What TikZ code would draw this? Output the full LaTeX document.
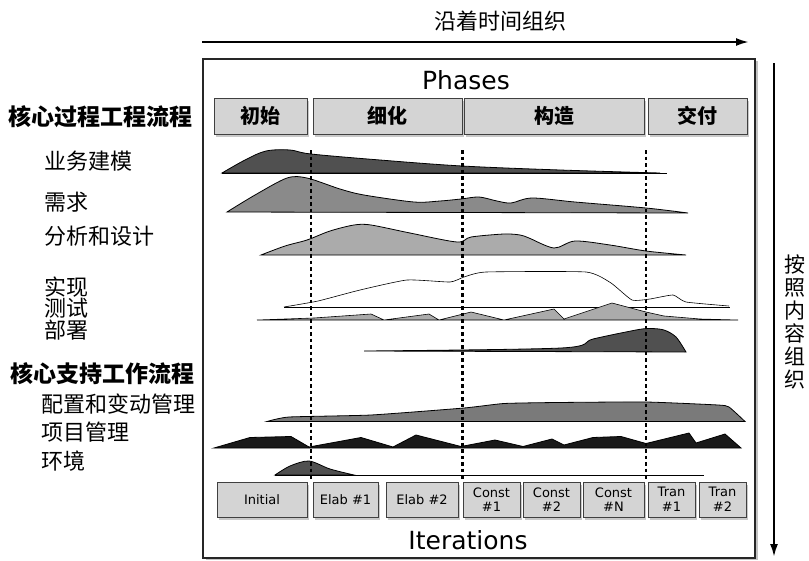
\documentclass[tikz,border=0pt]{standalone}
\usepackage{fontspec}
\setmainfont{DejaVu Sans}
\newfontfamily\song{Noto Sans CJK SC}
\newfontfamily\hei{Noto Sans CJK SC}
\usetikzlibrary{shadows,arrows.meta}
\definecolor{cdark}{HTML}{505050}
\definecolor{cmid}{HTML}{8A8A8A}
\definecolor{clight}{HTML}{ABABAB}
\definecolor{cconf}{HTML}{7A7A7A}
\definecolor{cblack}{HTML}{1A1A1A}
\definecolor{cbox}{HTML}{D4D4D4}
\tikzset{
  lab/.style={font=\song\fontsize{22}{22}\selectfont, anchor=west, inner sep=0pt},
  grp/.style={font=\song\bfseries\fontsize{23}{23}\selectfont, anchor=west, inner sep=0pt},
  phasebox/.style={draw=black!75, line width=0.8pt, fill=cbox,
     drop shadow={shadow xshift=2pt, shadow yshift=-3pt, fill=black!35, opacity=.6}},
  phaselab/.style={font=\hei\bfseries\fontsize{20}{20}\selectfont},
  iterlab/.style={font=\fontsize{13}{14.5}\selectfont, align=center, inner sep=0pt},
  wf/.style={draw=black, line width=0.8pt},
  milestone/.style={line width=2.4pt, dash pattern=on 3.5pt off 3pt},
  bigarrow/.style={line width=2.2pt, -{Latex[length=13pt,width=8pt]}}
}
\begin{document}
\begin{tikzpicture}[x=1pt,y=-1pt]
\useasboundingbox (0,0) rectangle (809,560);

% top arrow
\coordinate (ta) at (202,42);
\coordinate (tb) at (749,42);
\draw[bigarrow] (ta) -- (tb);
\node[font=\song\fontsize{22}{22}\selectfont] (ttime) at (500,21) {沿着时间组织};

% right arrow
\coordinate (ra) at (774,63);
\coordinate (rb) at (774,557);
\draw[bigarrow] (ra) -- (rb);
\node[font=\song\fontsize{21}{23}\selectfont, align=center, inner sep=0pt] (tcont) at (795,322) {按\\照\\内\\容\\组\\织};

% main frame
\draw[line width=1.4pt, draw=black!85, fill=white,
  drop shadow={shadow xshift=3pt, shadow yshift=-2pt, fill=black!40, opacity=.6}]
  (203,59) rectangle (755,558);

\node[font=\fontsize{25}{25}\selectfont] (phases) at (466,80) {Phases};
\node[font=\fontsize{25}{25}\selectfont] (iters) at (468,540) {Iterations};

% phase boxes
\node[phasebox, minimum width=93pt, minimum height=36pt] (p1) at (260.5,116) {};
\node[phasebox, minimum width=149pt, minimum height=36pt] (p2) at (387.5,116) {};
\node[phasebox, minimum width=180pt, minimum height=36pt] (p3) at (554,116) {};
\node[phasebox, minimum width=99pt, minimum height=36pt] (p4) at (697.5,116) {};
\node[phaselab] at (p1) {初始};
\node[phaselab] at (p2) {细化};
\node[phaselab] at (p3) {构造};
\node[phaselab] at (p4) {交付};

% iteration boxes
\node[phasebox, minimum width=90pt, minimum height=35pt] (i1) at (262,499.5) {};
\node[phasebox, minimum width=65pt, minimum height=35pt] (i2) at (345.5,499.5) {};
\node[phasebox, minimum width=72pt, minimum height=35pt] (i3) at (422,499.5) {};
\node[phasebox, minimum width=57pt, minimum height=35pt] (i4) at (491.5,499.5) {};
\node[phasebox, minimum width=57pt, minimum height=35pt] (i5) at (551.5,499.5) {};
\node[phasebox, minimum width=61pt, minimum height=35pt] (i6) at (613.5,499.5) {};
\node[phasebox, minimum width=47pt, minimum height=35pt] (i7) at (671.5,499.5) {};
\node[phasebox, minimum width=47pt, minimum height=35pt] (i8) at (722.5,499.5) {};
\node[iterlab] at (i1) {Initial};
\node[iterlab] at (i2) {Elab \#1};
\node[iterlab] at (i3) {Elab \#2};
\node[iterlab] at (i4) {Const\\\#1};
\node[iterlab] at (i5) {Const\\\#2};
\node[iterlab] at (i6) {Const\\\#N};
\node[iterlab] at (i7) {Tran\\\#1};
\node[iterlab] at (i8) {Tran\\\#2};

% left labels
\node[grp] (g1) at (8,117) {核心过程工程流程};
\node[lab] (l1) at (44,161) {业务建模};
\node[lab] (l2) at (44,202) {需求};
\node[lab] (l3) at (44,236) {分析和设计};
\node[lab] (l4) at (44,287) {实现};
\node[lab] (l5) at (44,308) {测试};
\node[lab] (l6) at (44,330) {部署};
\node[grp] (g2) at (10,374) {核心支持工作流程};
\node[lab] (l7) at (41,404) {配置和变动管理};
\node[lab] (l8) at (41,432) {项目管理};
\node[lab] (l9) at (41,461) {环境};

% 1 business modeling
\filldraw[wf, fill=cdark] plot[smooth, tension=.55] coordinates {(222,173) (245,160) (266,151) (290,150) (311,154) (380,160) (462,166) (560,170) (660,173)} -- cycle;
\draw[wf] (222,173) -- (667,173);
% 2 requirements
\filldraw[wf, fill=cmid] plot[smooth, tension=.5] coordinates {(227,212) (255,195) (287,178) (307,178) (340,189) (364,195) (414,202) (440,201) (461,199) (479,197) (497,201) (511,203) (532,198) (575,202) (646,208) (688,213)} -- cycle;
% 3 analysis & design
\filldraw[wf, fill=clight] plot[smooth, tension=.5] coordinates {(261,255) (285,246) (307,240) (330,231) (354,225) (371,225) (410,233) (457,242) (471,237) (504,234) (520,235) (529,238) (554,248) (575,241) (610,245) (646,251) (686,255)} -- cycle;
% 4 implementation
\draw[line width=0.6pt] plot[smooth, tension=.3] coordinates {(284,307) (318,301) (360,290) (407,280) (450,282) (464,277) (486,272) (586,272) (611,283) (632,300) (650,299) (673,295) (686,302) (729,306)};
\draw[line width=0.8pt] (284,307) -- (730,307);
% 5 test
\filldraw[wf, line width=0.6pt, fill=clight] (257,320) -- (314,318) -- (371,314) -- (384,320) -- (429,314) -- (439,320) -- (471,312) -- (504,320) -- (554,309) -- (564,319) -- (612,303) -- (646,312) -- (664,316) -- (700,319) -- (738,320) -- cycle;
% 6 deployment
\filldraw[wf, fill=cdark] plot[smooth, tension=.5] coordinates {(364,351) (561,348) (593,339) (636,330) (650,328.5) (664,330) (676,337) (686,352)} -- cycle;
% 7 configuration & change mgmt
\filldraw[wf, fill=cconf] plot[smooth, tension=.3] coordinates {(267,421.5) (289,417) (371,415) (464,408) (504,403.5) (557,402.5) (646,402) (718,405) (729,407) (745,421.5)} -- cycle;
% 8 project management
\filldraw[wf, fill=cblack] (214,448) -- (250,437.5) -- (291,436.5) -- (309,447) -- (361,437.5) -- (393,447) -- (416,435) -- (461,446.5) -- (495,440) -- (523,446.5) -- (552,439) -- (564,445) -- (593,437.5) -- (621,436.5) -- (646,443.5) -- (689,433) -- (696,443) -- (725,434) -- (741,448) -- cycle;
% 9 environment
\filldraw[wf, fill=cdark] plot[smooth, tension=.5] coordinates {(275,475) (290,466) (309,461) (330,469) (354,475)} -- cycle;
\draw[wf] (275,475) -- (704,475);

% milestones
\coordinate (m1a) at (311,150); \coordinate (m1b) at (311,481);
\coordinate (m2a) at (462.5,150); \coordinate (m2b) at (462.5,481);
\coordinate (m3a) at (646,150); \coordinate (m3b) at (646,481);
\draw[milestone] (m1a) -- (m1b);
\draw[milestone] (m2a) -- (m2b);
\draw[milestone] (m3a) -- (m3b);
\end{tikzpicture}
\end{document}
